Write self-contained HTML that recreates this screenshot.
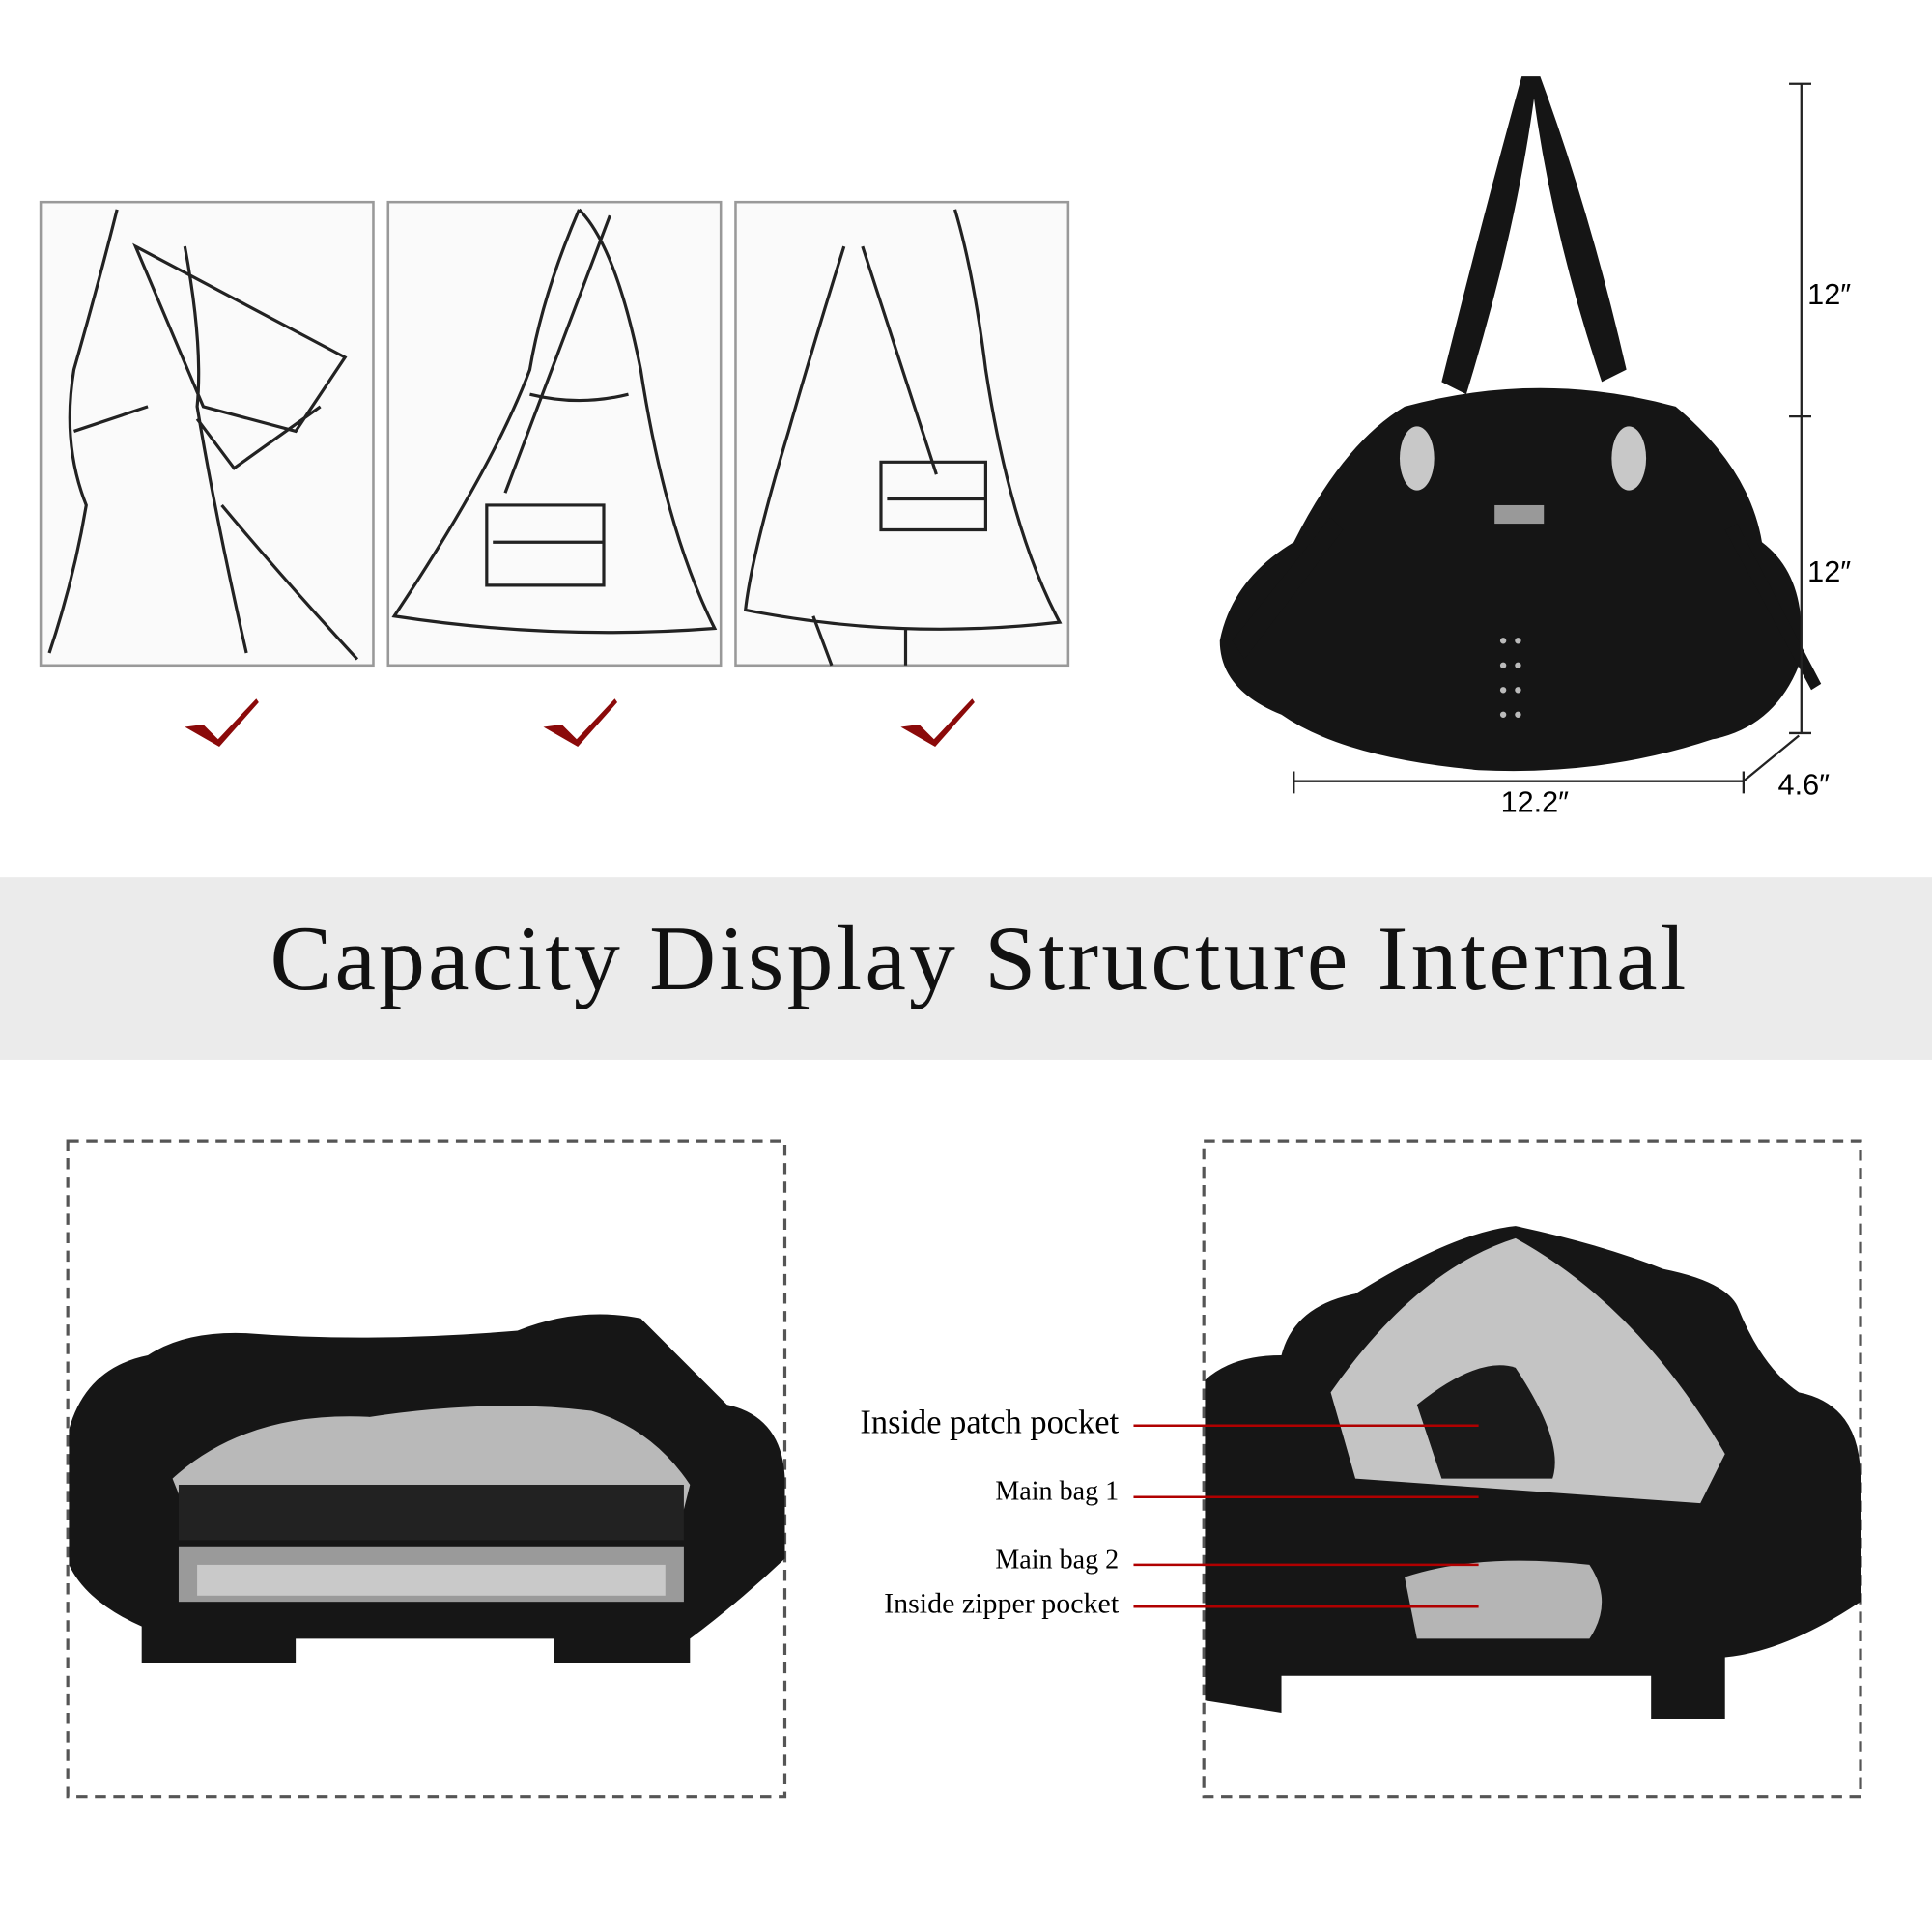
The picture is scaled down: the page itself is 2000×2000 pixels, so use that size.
<!DOCTYPE html>
<html><head><meta charset="utf-8"><style>
html,body{margin:0;padding:0;background:#fff;width:2000px;height:2000px;overflow:hidden}
#s{position:absolute;left:0;top:0;width:1568px;height:1568px;transform:scale(1.27551);transform-origin:0 0;font-family:"Liberation Serif",serif}
.t{position:absolute;white-space:nowrap}
</style></head><body><div id="s">
<svg width="1568" height="1568" style="position:absolute;left:0;top:0">
<g fill="#fafafa" stroke="#999" stroke-width="2">
<rect x="33" y="164" width="270" height="376"/>
<rect x="315" y="164" width="270" height="376"/>
<rect x="597" y="164" width="270" height="376"/>
</g>
<g fill="none" stroke="#222" stroke-width="2.5">
<path d="M95 170 Q80 230 60 300 Q50 360 70 410 Q60 470 40 530 M150 200 Q165 280 160 330 Q175 420 200 530 M180 410 Q230 470 290 535 M110 200 L280 290 L240 350 L165 330 Z M160 340 L190 380 L260 330 M60 350 Q90 340 120 330"/>
<path d="M470 170 Q440 240 430 300 Q400 380 320 500 Q450 520 580 510 Q540 430 520 300 Q500 200 470 170 M430 320 Q470 330 510 320 M495 175 L410 400 M395 410 L490 410 L490 475 L395 475 Z M400 440 L490 440"/>
<path d="M685 200 Q660 280 640 350 Q610 450 605 495 Q730 520 860 505 Q820 430 800 300 Q790 220 775 170 M700 200 L760 385 M715 375 L800 375 L800 430 L715 430 Z M720 405 L800 405 M660 500 L675 540 M735 510 L735 540"/>
</g>
<g fill="#8b0a0a">
<path d="M150 590 L165 588 L177 600 L208 567 L210 570 L178 606 Z"/>
<path d="M441 590 L456 588 L468 600 L499 567 L501 570 L469 606 Z"/>
<path d="M731 590 L746 588 L758 600 L789 567 L791 570 L759 606 Z"/>
</g>
<g fill="#151515">
<path d="M1235 62 L1250 62 Q1290 170 1320 300 L1300 310 Q1260 190 1245 80 Q1230 190 1190 320 L1170 310 Q1205 170 1235 62 Z"/>
<path d="M1140 330 Q1250 300 1360 330 Q1420 380 1430 440 Q1470 470 1460 540 Q1440 590 1390 600 Q1300 630 1200 625 Q1090 615 1040 580 Q990 560 990 520 Q1000 470 1050 440 Q1090 360 1140 330 Z"/>
<path d="M1000 520 L1080 420 L1090 430 L1010 535 Z M1470 560 L1400 430 L1410 425 L1478 555 Z"/>
</g>
<g fill="#c8c8c8"><ellipse cx="1150" cy="372" rx="14" ry="26"/><ellipse cx="1322" cy="372" rx="14" ry="26"/><rect x="1213" y="410" width="40" height="15" fill="#999"/></g>
<g fill="#bbb"><circle cx="1220" cy="520" r="2.5"/><circle cx="1220" cy="540" r="2.5"/><circle cx="1220" cy="560" r="2.5"/><circle cx="1220" cy="580" r="2.5"/><circle cx="1232" cy="520" r="2.5"/><circle cx="1232" cy="540" r="2.5"/><circle cx="1232" cy="560" r="2.5"/><circle cx="1232" cy="580" r="2.5"/></g>
<g stroke="#222" stroke-width="1.8" fill="none">
<path d="M1462 68 V595 M1452 68 H1470 M1452 338 H1470 M1452 595 H1470"/>
<path d="M1050 634 H1415 M1050 626 V644 M1415 626 V644 M1415 634 L1460 597"/>
</g>
<rect x="0" y="712" width="1568" height="148" fill="#ebebeb"/>
<g fill="none" stroke="#555" stroke-width="2.5" stroke-dasharray="9 6">
<rect x="55" y="926" width="582" height="532"/>
<rect x="977" y="926" width="533" height="532"/>
</g>
<g>
<path d="M56 1160 Q70 1110 120 1100 Q150 1080 200 1082 Q300 1090 420 1080 Q470 1060 520 1070 Q560 1110 590 1140 Q635 1150 637 1200 V1265 Q600 1300 560 1330 L560 1350 L450 1350 L450 1330 L240 1330 L240 1350 L115 1350 L115 1320 Q70 1300 56 1270 Z" fill="#161616"/>
<path d="M140 1200 Q200 1145 300 1150 Q400 1135 480 1145 Q530 1160 560 1205 L555 1225 L150 1225 Z" fill="#b9b9b9"/>
<rect x="145" y="1205" width="410" height="45" fill="#222"/>
<rect x="145" y="1255" width="410" height="45" fill="#9a9a9a"/>
<rect x="160" y="1270" width="380" height="25" fill="#c9c9c9"/>
</g>
<g>
<path d="M978 1120 Q1000 1100 1040 1100 Q1050 1060 1100 1050 Q1180 1000 1230 995 Q1300 1010 1350 1030 Q1400 1040 1410 1060 Q1430 1110 1460 1130 Q1510 1140 1510 1200 V1300 Q1450 1340 1400 1345 L1400 1395 L1340 1395 L1340 1360 L1040 1360 L1040 1390 L978 1380 Z" fill="#161616"/>
<path d="M1080 1130 Q1150 1030 1230 1005 Q1330 1060 1400 1180 L1380 1220 L1100 1200 Z" fill="#c4c4c4"/>
<path d="M1150 1140 Q1200 1100 1230 1110 Q1270 1170 1260 1200 L1170 1200 Z" fill="#1a1a1a"/>
<path d="M1140 1280 Q1200 1260 1290 1270 Q1310 1300 1290 1330 L1150 1330 Z" fill="#b5b5b5"/>
</g>
<g stroke="#b00000" stroke-width="2">
<path d="M920 1157 H1200 M920 1215 H1200 M920 1270 H1200 M920 1304 H1200"/>
</g>
</svg>
<div class="t" style="left:1467px;top:226px;font:24px 'Liberation Sans',sans-serif">12″</div>
<div class="t" style="left:1467px;top:451px;font:24px 'Liberation Sans',sans-serif">12″</div>
<div class="t" style="left:1218px;top:638px;font:24px 'Liberation Sans',sans-serif">12.2″</div>
<div class="t" style="left:1443px;top:624px;font:24px 'Liberation Sans',sans-serif">4.6″</div>
<div class="t" style="left:0;width:1590px;text-align:center;top:736px;font-size:75px;letter-spacing:2.5px;color:#111">Capacity Display Structure Internal</div>
<div class="t" style="right:660px;top:1139px;font-size:27px">Inside patch pocket</div>
<div class="t" style="right:660px;top:1197px;font-size:22px">Main bag 1</div>
<div class="t" style="right:660px;top:1253px;font-size:22px">Main bag 2</div>
<div class="t" style="right:660px;top:1289px;font-size:23.5px">Inside zipper pocket</div>
</div></body></html>
